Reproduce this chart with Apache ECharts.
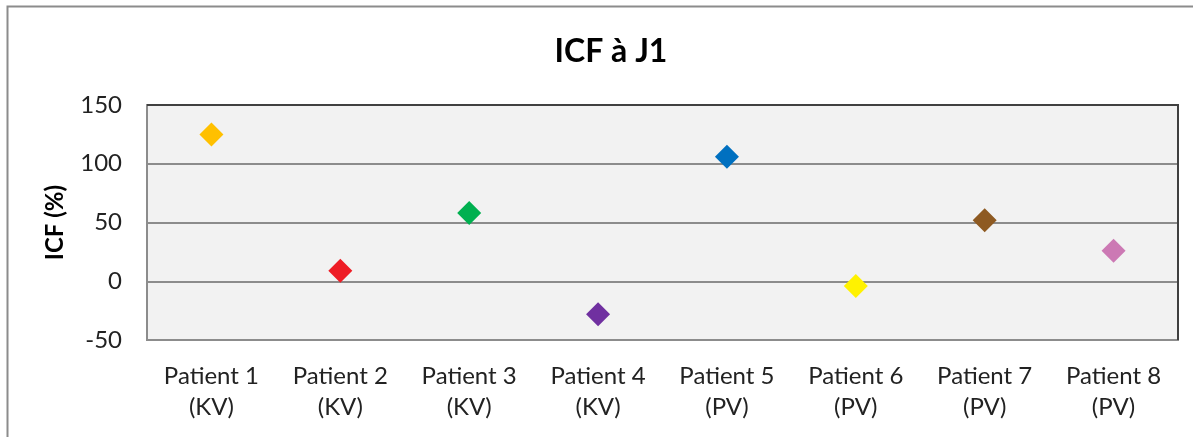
<!DOCTYPE html>
<html>
<head>
<meta charset="utf-8">
<script src="https://cdn.jsdelivr.net/npm/echarts@6/dist/echarts.min.js"></script>
<style>
  html, body { margin: 0; padding: 0; background: #fff; }
  #chart { width: 1202px; height: 437px; }
</style>
</head>
<body>
<div id="chart"></div>
<script>
var categories = ['Patient 1\n(KV)', 'Patient 2\n(KV)', 'Patient 3\n(KV)', 'Patient 4\n(KV)',
                  'Patient 5\n(PV)', 'Patient 6\n(PV)', 'Patient 7\n(PV)', 'Patient 8\n(PV)'];
var icfValues = [125, 9, 58, -28, 106, -4, 52, 26];
var markerColors = ['#FFC000', '#EE1C25', '#00B050', '#7030A0', '#0070C0', '#FFF200', '#8E5A22', '#CC79B4'];
var yTicks = { min: -50, max: 150, interval: 50 };

var font = 'Lato, "Open Sans", sans-serif';
var myChart = echarts.init(document.getElementById('chart'));

var option = {
    backgroundColor: '#fff',
    animation: false,
    title: {
        text: 'ICF à J1',
        left: 606,
        top: 31,
        textAlign: 'center',
        textStyle: { fontFamily: font, fontSize: 32, fontWeight: 'bold', color: '#000' }
    },
    graphic: [{
        type: 'polyline',
        shape: { points: [[7.5, 437], [7.5, 6.5], [1193, 6.5]] },
        style: { stroke: '#8c8c8c', lineWidth: 2, fill: null }
    }, {
        type: 'polyline',
        shape: { points: [[147, 105], [1178, 105], [1178, 340]] },
        style: { stroke: '#404040', lineWidth: 2, fill: null },
        z: 10
    }],
    grid: {
        left: 147, top: 105, width: 1031, height: 235,
        show: true,
        backgroundColor: '#F2F2F2',
        borderColor: '#8c8c8c',
        borderWidth: 2
    },
    xAxis: {
        type: 'category',
        data: categories,
        boundaryGap: true,
        axisLine: { show: false },
        axisTick: { show: false },
        axisLabel: {
            fontFamily: font, fontSize: 24, color: '#222', lineHeight: 31, margin: 21, interval: 0
        }
    },
    yAxis: {
        type: 'value',
        min: yTicks.min,
        max: yTicks.max,
        interval: yTicks.interval,
        name: 'ICF (%)',
        nameLocation: 'middle',
        nameGap: 80,
        nameTextStyle: { fontFamily: font, fontSize: 24, fontWeight: 'bold', color: '#000' },
        axisLine: { show: false },
        axisTick: { show: false },
        axisLabel: { fontFamily: font, fontSize: 24, color: '#222', margin: 25 },
        splitLine: { lineStyle: { color: '#8c8c8c', width: 2 } }
    },
    series: [{
        type: 'scatter',
        symbol: 'diamond',
        symbolSize: 24,
        data: icfValues.map(function (v, i) {
            return { value: v, itemStyle: { color: markerColors[i], opacity: 1 } };
        })
    }]
};
myChart.setOption(option);
</script>
</body>
</html>
